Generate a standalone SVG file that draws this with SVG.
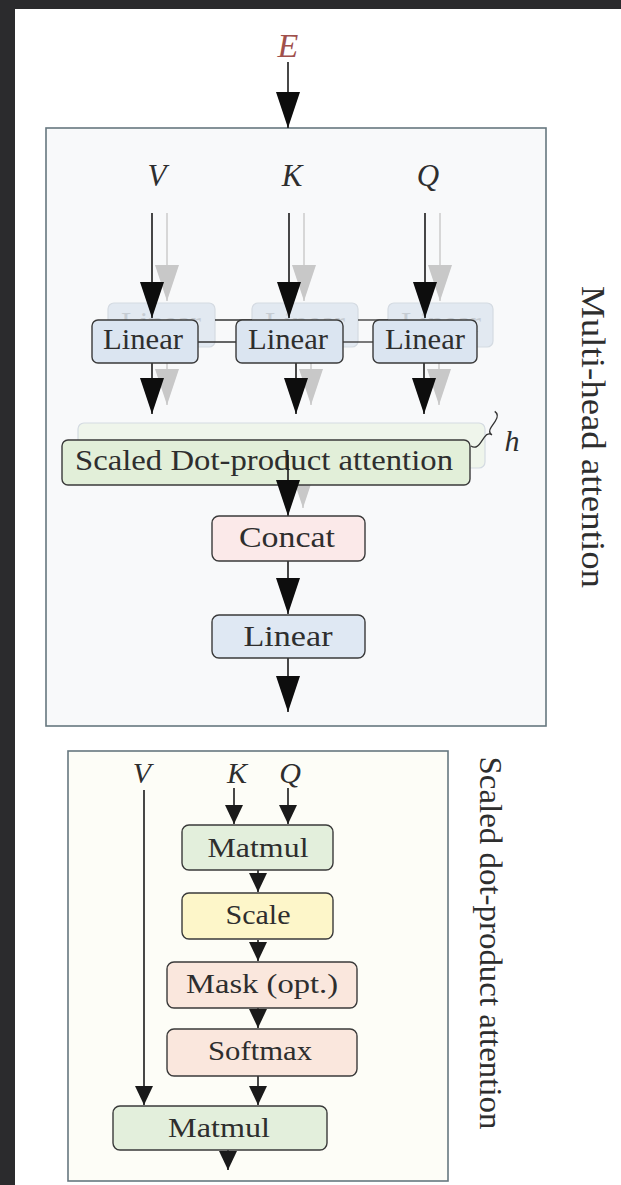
<svg xmlns="http://www.w3.org/2000/svg" width="621" height="1185" viewBox="0 0 621 1185">
<defs>
<style>
.frame{fill:#2b2b2d}
.panel{stroke:#66777f;stroke-width:1.6}
.box{stroke:#3a3a3a;stroke-width:1.4}
.ghost{stroke:#c9d1da;stroke-width:1.2;opacity:0.75}
.t{font-family:"Liberation Serif","DejaVu Serif",serif;fill:#2e2e2e;text-anchor:middle}
.ti{font-family:"Liberation Serif","DejaVu Serif",serif;font-style:italic;fill:#2e2e2e;text-anchor:middle}
.ar{stroke:#1a1a1a;stroke-width:1.6;fill:none}
.arg{stroke:#cfcfcf;stroke-width:1.6;fill:none}
.lnk{stroke:#333;stroke-width:1.3;fill:none}
</style>
<marker id="big" markerUnits="userSpaceOnUse" markerWidth="36" markerHeight="24" refX="36" refY="12" orient="auto"><path d="M0,0 L36,12 L0,24 z" fill="#0d0d0d"/></marker>
<marker id="bigGray" markerUnits="userSpaceOnUse" markerWidth="36" markerHeight="24" refX="36" refY="12" orient="auto"><path d="M0,0 L36,12 L0,24 z" fill="#c8c8c8"/></marker>
<marker id="small" markerUnits="userSpaceOnUse" markerWidth="19" markerHeight="18" refX="19" refY="9" orient="auto"><path d="M0,0 L19,9 L0,18 z" fill="#1a1a1a"/></marker>
</defs>
<rect x="0" y="0" width="621" height="1185" fill="#ffffff"/>
<rect class="frame" x="0" y="0" width="621" height="9"/>
<rect class="frame" x="0" y="0" width="15" height="1185"/>

<g id="multihead-panel">
<rect class="panel" x="46" y="128" width="500" height="598" fill="#f8f9fa"/>
<text class="t" font-size="33" textLength="302" lengthAdjust="spacingAndGlyphs" transform="translate(582,437) rotate(90)">Multi-head attention</text>
</g>
<g id="sdpa-panel">
<rect class="panel" x="68" y="751" width="380" height="430" fill="#fdfdf7"/>
<text class="t" font-size="32" textLength="373" lengthAdjust="spacingAndGlyphs" transform="translate(480,943) rotate(90)">Scaled dot-product attention</text>
</g>

<g id="labels">
<text class="ti" x="288" y="57" font-size="34" style="fill:#a0504c">E</text>
<text class="ti" x="157" y="186" font-size="31">V</text>
<text class="ti" x="292" y="186" font-size="31">K</text>
<text class="ti" x="428" y="186" font-size="31">Q</text>
<text class="ti" x="512" y="451" font-size="30">h</text>
<text class="ti" x="142" y="783" font-size="30">V</text>
<text class="ti" x="237" y="783" font-size="30">K</text>
<text class="ti" x="290" y="783" font-size="30">Q</text>
</g>

<g id="shadow-heads">
<line class="arg" x1="167" y1="213" x2="167" y2="301" marker-end="url(#bigGray)"/>
<line class="arg" x1="304" y1="213" x2="304" y2="301" marker-end="url(#bigGray)"/>
<line class="arg" x1="440" y1="213" x2="440" y2="301" marker-end="url(#bigGray)"/>
<rect class="ghost" x="108" y="303" width="107" height="44" rx="6" fill="#dbe4ef"/>
<rect class="ghost" x="252" y="303" width="106" height="44" rx="6" fill="#dbe4ef"/>
<rect class="ghost" x="388" y="303" width="105" height="44" rx="6" fill="#dbe4ef"/>
<text class="t" x="161" y="332" font-size="30" opacity="0.15" textLength="80" lengthAdjust="spacingAndGlyphs">Linear</text>
<text class="t" x="305" y="332" font-size="30" opacity="0.15" textLength="80" lengthAdjust="spacingAndGlyphs">Linear</text>
<text class="t" x="441" y="332" font-size="30" opacity="0.15" textLength="80" lengthAdjust="spacingAndGlyphs">Linear</text>
<line class="arg" x1="167" y1="347" x2="167" y2="405" marker-end="url(#bigGray)"/>
<line class="arg" x1="311" y1="347" x2="311" y2="405" marker-end="url(#bigGray)"/>
<line class="arg" x1="439" y1="347" x2="439" y2="405" marker-end="url(#bigGray)"/>
<rect class="ghost" x="78" y="423" width="407" height="45" rx="6" fill="#ecf4e6"/>
<line class="arg" x1="303" y1="468" x2="303" y2="508" marker-end="url(#bigGray)"/>
<line class="lnk" x1="215" y1="320" x2="252" y2="320"/>
<line class="lnk" x1="358" y1="320" x2="388" y2="320"/>
<path class="lnk" d="M0,0 C0,4 3,6 8,6 L15,6 C19,6 21,8 21,11 C21,8 23,6 27,6 L34,6 C39,6 42,4 42,0" transform="translate(471,446) rotate(-55.6)"/>
</g>

<g id="connectors">
<line class="ar" x1="288" y1="62" x2="288" y2="128" marker-end="url(#big)"/>
<line class="ar" x1="152" y1="213" x2="152" y2="318" marker-end="url(#big)"/>
<line class="ar" x1="289" y1="213" x2="289" y2="318" marker-end="url(#big)"/>
<line class="ar" x1="425" y1="213" x2="425" y2="318" marker-end="url(#big)"/>
<line class="lnk" x1="198" y1="342" x2="236" y2="342"/>
<line class="lnk" x1="343" y1="342" x2="373" y2="342"/>
<line class="ar" x1="152" y1="363" x2="152" y2="414" marker-end="url(#big)"/>
<line class="ar" x1="296" y1="363" x2="296" y2="414" marker-end="url(#big)"/>
<line class="ar" x1="424" y1="363" x2="424" y2="414" marker-end="url(#big)"/>
<line class="ar" x1="288" y1="561" x2="288" y2="614" marker-end="url(#big)"/>
<line class="ar" x1="288" y1="658" x2="288" y2="712" marker-end="url(#big)"/>
<line class="ar" x1="234" y1="788" x2="234" y2="824" marker-end="url(#small)"/>
<line class="ar" x1="288" y1="788" x2="288" y2="824" marker-end="url(#small)"/>
<line class="ar" x1="258" y1="870" x2="258" y2="892" marker-end="url(#small)"/>
<line class="ar" x1="258" y1="940" x2="258" y2="961" marker-end="url(#small)"/>
<line class="ar" x1="258" y1="1008" x2="258" y2="1028" marker-end="url(#small)"/>
<line class="ar" x1="258" y1="1076" x2="258" y2="1105" marker-end="url(#small)"/>
<line class="ar" x1="144" y1="790" x2="144" y2="1105" marker-end="url(#small)"/>
<line class="ar" x1="228" y1="1150" x2="228" y2="1170" marker-end="url(#small)"/>
</g>

<g id="linear-v">
<rect class="box" x="92" y="320" width="106" height="43" rx="6" fill="#dbe5f1"/>
<text class="t" x="143" y="349" font-size="30" textLength="80" lengthAdjust="spacingAndGlyphs">Linear</text>
</g>
<g id="linear-k">
<rect class="box" x="236" y="320" width="107" height="43" rx="6" fill="#dbe5f1"/>
<text class="t" x="288" y="349" font-size="30" textLength="80" lengthAdjust="spacingAndGlyphs">Linear</text>
</g>
<g id="linear-q">
<rect class="box" x="373" y="320" width="104" height="43" rx="6" fill="#dbe5f1"/>
<text class="t" x="425" y="349" font-size="30" textLength="80" lengthAdjust="spacingAndGlyphs">Linear</text>
</g>
<g id="scaled-attention">
<rect class="box" x="62" y="440" width="408" height="45" rx="6" fill="#e2efd9"/>
<text class="t" x="264" y="470" font-size="29" textLength="378" lengthAdjust="spacingAndGlyphs">Scaled Dot-product attention</text>
</g>
<g id="connector-scaled-concat">
<line class="ar" x1="288" y1="455" x2="288" y2="516" marker-end="url(#big)"/>
</g>
<g id="concat">
<rect class="box" x="212" y="516" width="153" height="45" rx="7" fill="#fbe9e9"/>
<text class="t" x="287" y="547" font-size="30" textLength="96" lengthAdjust="spacingAndGlyphs">Concat</text>
</g>
<g id="linear-out">
<rect class="box" x="212" y="615" width="153" height="43" rx="7" fill="#dfe8f3"/>
<text class="t" x="288" y="646" font-size="30" textLength="89" lengthAdjust="spacingAndGlyphs">Linear</text>
</g>

<g id="matmul-1">
<rect class="box" x="182" y="825" width="151" height="45" rx="7" fill="#e3efdc"/>
<text class="t" x="258" y="857" font-size="28" textLength="101" lengthAdjust="spacingAndGlyphs">Matmul</text>
</g>
<g id="scale">
<rect class="box" x="182" y="893" width="151" height="46" rx="7" fill="#fdf6c9"/>
<text class="t" x="258" y="924" font-size="28" textLength="65" lengthAdjust="spacingAndGlyphs">Scale</text>
</g>
<g id="mask">
<rect class="box" x="167" y="962" width="190" height="46" rx="7" fill="#fae7dd"/>
<text class="t" x="262" y="993" font-size="28" textLength="152" lengthAdjust="spacingAndGlyphs">Mask (opt.)</text>
</g>
<g id="softmax">
<rect class="box" x="167" y="1029" width="190" height="47" rx="7" fill="#fae7dd"/>
<text class="t" x="260" y="1060" font-size="28" textLength="104" lengthAdjust="spacingAndGlyphs">Softmax</text>
</g>
<g id="matmul-2">
<rect class="box" x="113" y="1106" width="214" height="44" rx="7" fill="#e3efdc"/>
<text class="t" x="219" y="1137" font-size="28" textLength="102" lengthAdjust="spacingAndGlyphs">Matmul</text>
</g>
</svg>
